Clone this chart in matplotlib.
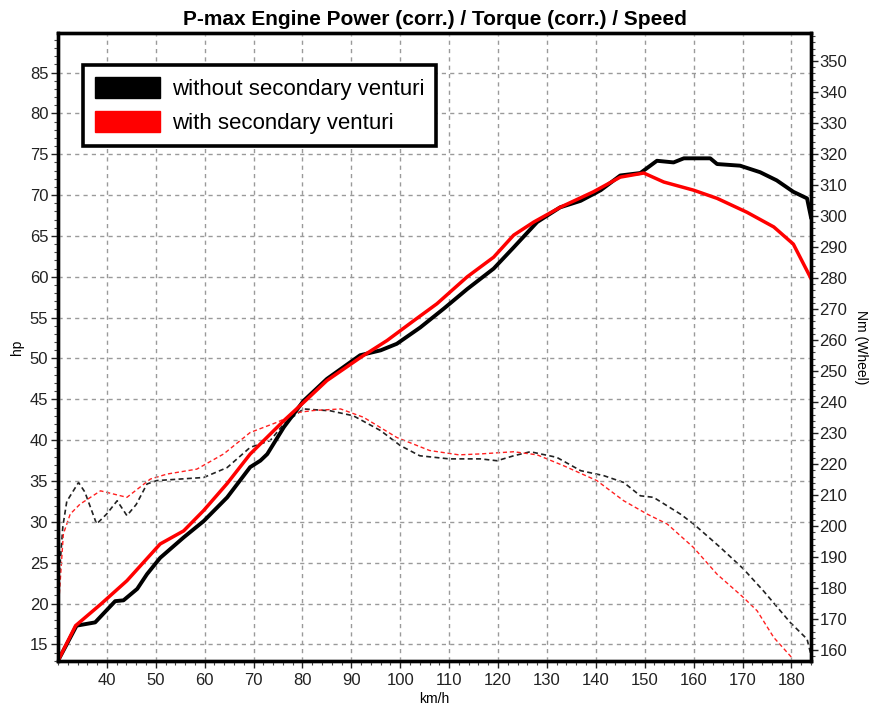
import matplotlib
matplotlib.use("Agg")
import matplotlib.pyplot as plt
from matplotlib.patches import Patch
from matplotlib.ticker import MultipleLocator

plt.rcParams['font.family'] = ['Liberation Sans', 'DejaVu Sans']

# Power (hp) vs speed (km/h)
speed_pw_without = [30, 33.8, 37.6, 41.7, 43.4, 46.2, 48.2, 50.9, 55.7, 59.8, 64.6, 69.3, 71.4,
                    72.8, 76.2, 80.2, 85, 91.8, 96, 99.3, 104.1, 108.9, 113.7, 119.1, 123.2,
                    128, 132.7, 136.9, 141, 145, 149.1, 152.5, 155.9, 158, 163.4, 164.8,
                    169.5, 173.6, 177, 180.4, 183.2, 184]
power_without = [13, 17.3, 17.7, 20.3, 20.4, 21.8, 23.6, 25.6, 28.1, 30.1, 33.0, 36.7, 37.5,
                 38.3, 41.6, 44.8, 47.5, 50.4, 51.0, 51.8, 53.8, 56.1, 58.5, 61.0, 63.6,
                 66.7, 68.5, 69.3, 70.6, 72.4, 72.7, 74.2, 74.0, 74.5, 74.5, 73.8,
                 73.6, 72.8, 71.8, 70.4, 69.6, 67.3]

speed_pw_with = [30, 33.6, 38.7, 44.1, 50.9, 55.7, 59.8, 64.6, 69.3, 76.2, 80.2, 85, 91.8,
                 97.3, 102.7, 107.5, 113.7, 119.1, 123.2, 127.3, 132.7, 139.5, 145, 149.8,
                 153.9, 160, 164.8, 170.9, 176.4, 180.4, 184]
power_with = [13, 17.3, 19.9, 22.8, 27.3, 28.9, 31.4, 34.7, 38.3, 42.4, 44.6, 47.3, 50.1,
              52.2, 54.6, 56.7, 60.0, 62.4, 65.1, 66.7, 68.5, 70.4, 72.2, 72.7,
              71.6, 70.6, 69.6, 67.9, 66.1, 64.0, 59.8]

# Torque (Nm at wheel) vs speed (km/h)
speed_tq_without = [30.3, 31.0, 31.8, 34.2, 35.5, 37.9, 40.0, 42.1, 44.1, 46.0, 48.2, 50.2,
                    59.8, 64.6, 69.3, 73.4, 76.2, 80.2, 85.7, 90.4, 96, 100, 104, 110,
                    116.4, 119.8, 123.2, 126.6, 132.0, 136.9, 141.6, 145.7, 149.1, 151.8,
                    157.3, 160, 165.5, 170.2, 174.3, 179.8, 183.2, 183.9]
torque_without = [185, 200, 208, 214.1, 211, 200.7, 204, 208.2, 203.4, 207, 213.6, 214.7,
                  215.7, 218.9, 225.4, 227.6, 233.0, 237.8, 237.2, 235.6, 230.8, 226, 222.7, 221.7,
                  221.7, 221.1, 222.7, 224.0, 222.2, 217.9, 216.3, 214.1, 209.8, 209.3,
                  203.9, 200.7, 193.1, 186.2, 179.1, 168.9, 163.6, 159.2]

speed_tq_with = [30.1, 31.1, 32.5, 34.5, 38.7, 44.1, 48.9, 52.3, 58.4, 63.9, 69.3, 74.8,
                 79.2, 82.3, 87.8, 92.5, 99.3, 106, 112, 116.4, 123.2, 128, 133.4, 140.2,
                 145.7, 150.5, 154.6, 160, 164.8, 170.2, 173, 176.4, 180.1]
torque_with = [173.8, 197.5, 203.9, 207.1, 211.4, 209.3, 215.2, 216.8, 218.4, 223.3, 230.2, 233.5,
               236.7, 237.3, 237.8, 235.1, 228.6, 224.4, 223, 223.3, 224.0, 223.0, 219.5, 214.7,
               208.2, 203.9, 200.7, 193.1, 184.5, 177.0, 172.7, 164.1, 157.6]

hp_ticks = list(range(15, 90, 5))
nm_ticks = list(range(160, 360, 10))
kmh_ticks = list(range(40, 190, 10))

# hp -> Nm axis mapping
hp_lim = (13, 89.8)
def hp_to_nm(h):
    return 160 + (h - 14.29) * 190 / 72.13

fig = plt.figure(figsize=(8.72, 7.09), dpi=100)
ax = fig.add_axes([0.0665, 0.068, 0.8635, 0.885])
ax2 = ax.twinx()

ax2.plot(speed_tq_without, torque_without, color='#222222', lw=1.2, ls=(0, (3, 2)))
ax2.plot(speed_tq_with, torque_with, color='#ff2020', lw=1.0, ls=(0, (3, 2)))
ax.plot(speed_pw_without, power_without, color='black', lw=2.8, solid_joinstyle='round')
ax.plot(speed_pw_with, power_with, color='#ff0000', lw=2.5, solid_joinstyle='round')

ax.set_zorder(ax2.get_zorder() + 1)
ax.patch.set_visible(False)

ax.set_xlim(30, 184)
ax.set_ylim(*hp_lim)
ax2.set_ylim(hp_to_nm(hp_lim[0]), hp_to_nm(hp_lim[1]))

ax.set_xticks(kmh_ticks)
ax.set_yticks(hp_ticks)
ax2.set_yticks(nm_ticks)
ax.xaxis.set_minor_locator(MultipleLocator(2))
ax.yaxis.set_minor_locator(MultipleLocator(1))
ax2.yaxis.set_minor_locator(MultipleLocator(2))

for a in (ax, ax2):
    a.tick_params(which='major', direction='out', length=5, width=1, labelsize=12, colors='#222222')
    a.tick_params(which='minor', direction='out', length=3, width=0.8, colors='#444444')
    for s in a.spines.values():
        s.set_linewidth(2.4)
ax.tick_params(axis='y', pad=2)
ax2.tick_params(axis='y', pad=1)

ax.grid(True, which='major', color='#9a9a9a', ls=(0, (3, 3)), lw=1.0)

ax.set_xlabel('km/h', fontsize=10, labelpad=3)
ax.set_ylabel('hp', fontsize=10, labelpad=4)
ax2.set_ylabel('Nm (Wheel)', fontsize=10, rotation=270, labelpad=15)
ax.set_title('P-max Engine Power (corr.) / Torque (corr.) / Speed', fontsize=15,
             fontweight='bold', pad=6)

handles = [Patch(facecolor='black', edgecolor='black'),
           Patch(facecolor='#ff0000', edgecolor='#ff0000')]
leg = ax.legend(handles, ['without secondary venturi', 'with secondary venturi'],
                loc='upper left', bbox_to_anchor=(0.033, 0.95), borderaxespad=0,
                fontsize=16, handlelength=2.9, handleheight=1.05, handletextpad=0.55,
                labelspacing=0.5, borderpad=0.55, fancybox=False, framealpha=1)
leg.get_frame().set_edgecolor('black')
leg.get_frame().set_linewidth(2.6)

fig.savefig('out.png', dpi=100)
